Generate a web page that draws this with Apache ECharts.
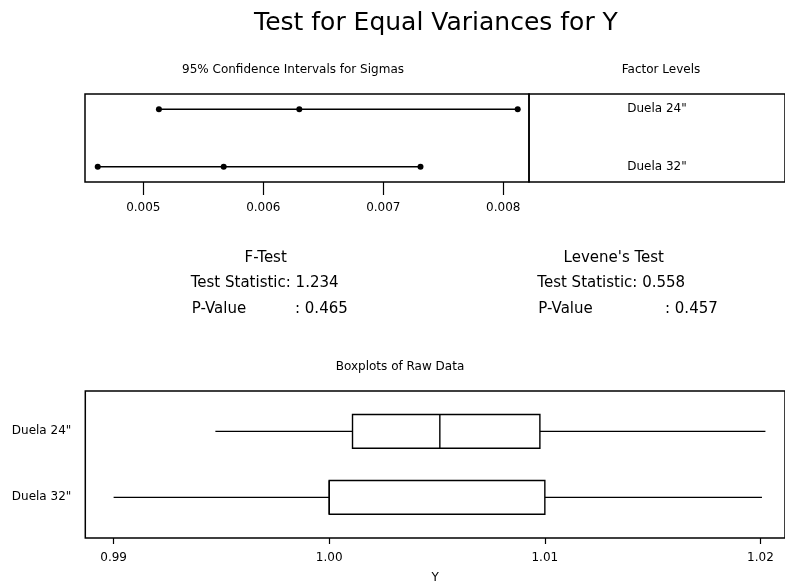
<!DOCTYPE html>
<html>
<head>
<meta charset="utf-8">
<script src="https://cdn.jsdelivr.net/npm/echarts@6/dist/echarts.min.js"></script>
<style>
html,body{margin:0;padding:0;background:#fff;}
#chart{width:785px;height:585px;}
</style>
</head>
<body>
<div id="chart"></div>
<script>
// ---- data ----
const levels = ['Duela 24"', 'Duela 32"'];
const ciLower = [0.00513, 0.00462];
const ciSigma = [0.00630, 0.00567];
const ciUpper = [0.00812, 0.00731];
const ciTicks = [0.005, 0.006, 0.007, 0.008];

const boxMin = [0.99472, 0.99000];
const boxQ1 = [1.00108, 1.00000];
const boxMedian = [1.00513, 1.00000];
const boxQ3 = [1.00977, 1.01000];
const boxMax = [1.02023, 1.02007];
const yTicks = [0.99, 1.00, 1.01, 1.02];

const fTestLabels = ['F-Test', 'Test Statistic: 1.234', 'P-Value', ': 0.465'];
const leveneLabels = ["Levene's Test", 'Test Statistic: 0.558', 'P-Value', ': 0.457'];

// ---- chart ----
const FONT = 'DejaVu Sans';
const INK = '#000';
const chart = echarts.init(document.getElementById('chart'), null, {renderer: 'canvas'});

const ciSeries = levels.map((lv, i) => ({
  type: 'line',
  xAxisIndex: 0, yAxisIndex: 0,
  data: [[ciLower[i], i], [ciSigma[i], i], [ciUpper[i], i]],
  symbol: 'circle', symbolSize: 6,
  lineStyle: {color: INK, width: 1.4},
  itemStyle: {color: INK},
  silent: true, animation: false
}));

const boxData = levels.map((lv, i) => [i, boxMin[i], boxQ1[i], boxMedian[i], boxQ3[i], boxMax[i]]);
const BOX_HALF = 0.255;

function renderBox(params, api) {
  const y = api.value(0);
  const pMin = api.coord([api.value(1), y]);
  const pQ1 = api.coord([api.value(2), y]);
  const pMed = api.coord([api.value(3), y]);
  const pQ3 = api.coord([api.value(4), y]);
  const pMax = api.coord([api.value(5), y]);
  const top = api.coord([api.value(2), y - BOX_HALF])[1];
  const bot = api.coord([api.value(2), y + BOX_HALF])[1];
  const st = {stroke: INK, lineWidth: 1.4, fill: null};
  return {
    type: 'group',
    children: [
      {type: 'line', shape: {x1: pMin[0], y1: pMin[1], x2: pQ1[0], y2: pQ1[1]}, style: st},
      {type: 'line', shape: {x1: pQ3[0], y1: pQ3[1], x2: pMax[0], y2: pMax[1]}, style: st},
      {type: 'rect', shape: {x: pQ1[0], y: top, width: pQ3[0] - pQ1[0], height: bot - top}, style: {stroke: INK, lineWidth: 1.4, fill: '#fff'}},
      {type: 'line', shape: {x1: pMed[0], y1: top, x2: pMed[0], y2: bot}, style: st}
    ]
  };
}

const txt = (x, y, text, size, align) => ({
  type: 'text', x: x, y: y,
  style: {text: text, fill: INK, font: size + 'px "' + FONT + '"', align: align || 'left', verticalAlign: 'middle'},
  silent: true
});

const option = {
  backgroundColor: '#fff',
  animation: false,
  textStyle: {fontFamily: FONT},
  grid: [
    {left: 85, top: 94, width: 444, height: 88, show: true, borderColor: INK, borderWidth: 1.5, backgroundColor: 'transparent'},
    {left: 529, top: 94, width: 264, height: 88, show: true, borderColor: INK, borderWidth: 1.5, backgroundColor: 'transparent'},
    {left: 85.3, top: 391, width: 702, height: 148.3, show: true, borderColor: INK, borderWidth: 1.5, backgroundColor: 'transparent'}
  ],
  xAxis: [
    {
      type: 'value', gridIndex: 0, min: 0.004514, max: 0.0082142, position: 'bottom',
      axisLine: {show: false, onZero: false},
      axisTick: {show: true, inside: false, length: 13, customValues: ciTicks, lineStyle: {color: INK, width: 1.2}},
      axisLabel: {show: true, customValues: ciTicks, margin: 20, color: INK, fontSize: 12, fontFamily: FONT,
        formatter: v => v.toFixed(3)},
      splitLine: {show: false}
    },
    {type: 'value', gridIndex: 1, min: 0, max: 1, show: false},
    {
      type: 'value', gridIndex: 2, min: 0.988687, max: 1.021138, position: 'bottom',
      axisLine: {show: false, onZero: false},
      axisTick: {show: true, inside: false, length: 6, customValues: yTicks, lineStyle: {color: INK, width: 1.2}},
      axisLabel: {show: true, customValues: yTicks, margin: 14, color: INK, fontSize: 12, fontFamily: FONT,
        formatter: v => v.toFixed(2)},
      splitLine: {show: false},
      name: 'Y', nameLocation: 'middle', nameGap: 34,
      nameTextStyle: {color: INK, fontSize: 12, fontFamily: FONT}
    }
  ],
  yAxis: [
    {type: 'value', gridIndex: 0, min: -0.2666, max: 1.2666, inverse: true, show: false},
    {type: 'value', gridIndex: 1, min: -0.2666, max: 1.2666, inverse: true, show: false},
    {
      type: 'value', gridIndex: 2, min: -0.6111, max: 1.6156, inverse: true,
      axisLine: {show: false, onZero: false}, axisTick: {show: false}, splitLine: {show: false},
      axisLabel: {show: true, customValues: [0, 1], margin: 14, color: INK, fontSize: 12, fontFamily: FONT,
        formatter: v => levels[Math.round(v)]}
    }
  ],
  series: ciSeries.concat([
    {
      type: 'scatter', xAxisIndex: 1, yAxisIndex: 1,
      data: levels.map((lv, i) => ({name: lv, value: [0.5, i]})),
      symbolSize: 0,
      label: {show: true, position: 'inside', formatter: p => p.name, color: INK, fontSize: 12, fontFamily: FONT,
        textBorderWidth: 0, opacity: 1},
      silent: true
    },
    {
      type: 'custom', xAxisIndex: 2, yAxisIndex: 2,
      data: boxData,
      encode: {x: [1, 2, 3, 4, 5], y: 0},
      renderItem: renderBox,
      silent: true
    }
  ]),
  graphic: [
    txt(436, 23, 'Test for Equal Variances for Y', 25, 'center'),
    txt(293, 70, '95% Confidence Intervals for Sigmas', 12, 'center'),
    txt(661, 70, 'Factor Levels', 12, 'center'),
    txt(400, 367, 'Boxplots of Raw Data', 12, 'center'),
    txt(265.7, 258, fTestLabels[0], 15, 'center'),
    txt(190.7, 283, fTestLabels[1], 15, 'left'),
    txt(191.7, 309, fTestLabels[2], 15, 'left'),
    txt(295, 309, fTestLabels[3], 15, 'left'),
    txt(613.8, 258, leveneLabels[0], 15, 'center'),
    txt(537.3, 283, leveneLabels[1], 15, 'left'),
    txt(538.3, 309, leveneLabels[2], 15, 'left'),
    txt(665, 309, leveneLabels[3], 15, 'left')
  ]
};
chart.setOption(option);
</script>
</body>
</html>
